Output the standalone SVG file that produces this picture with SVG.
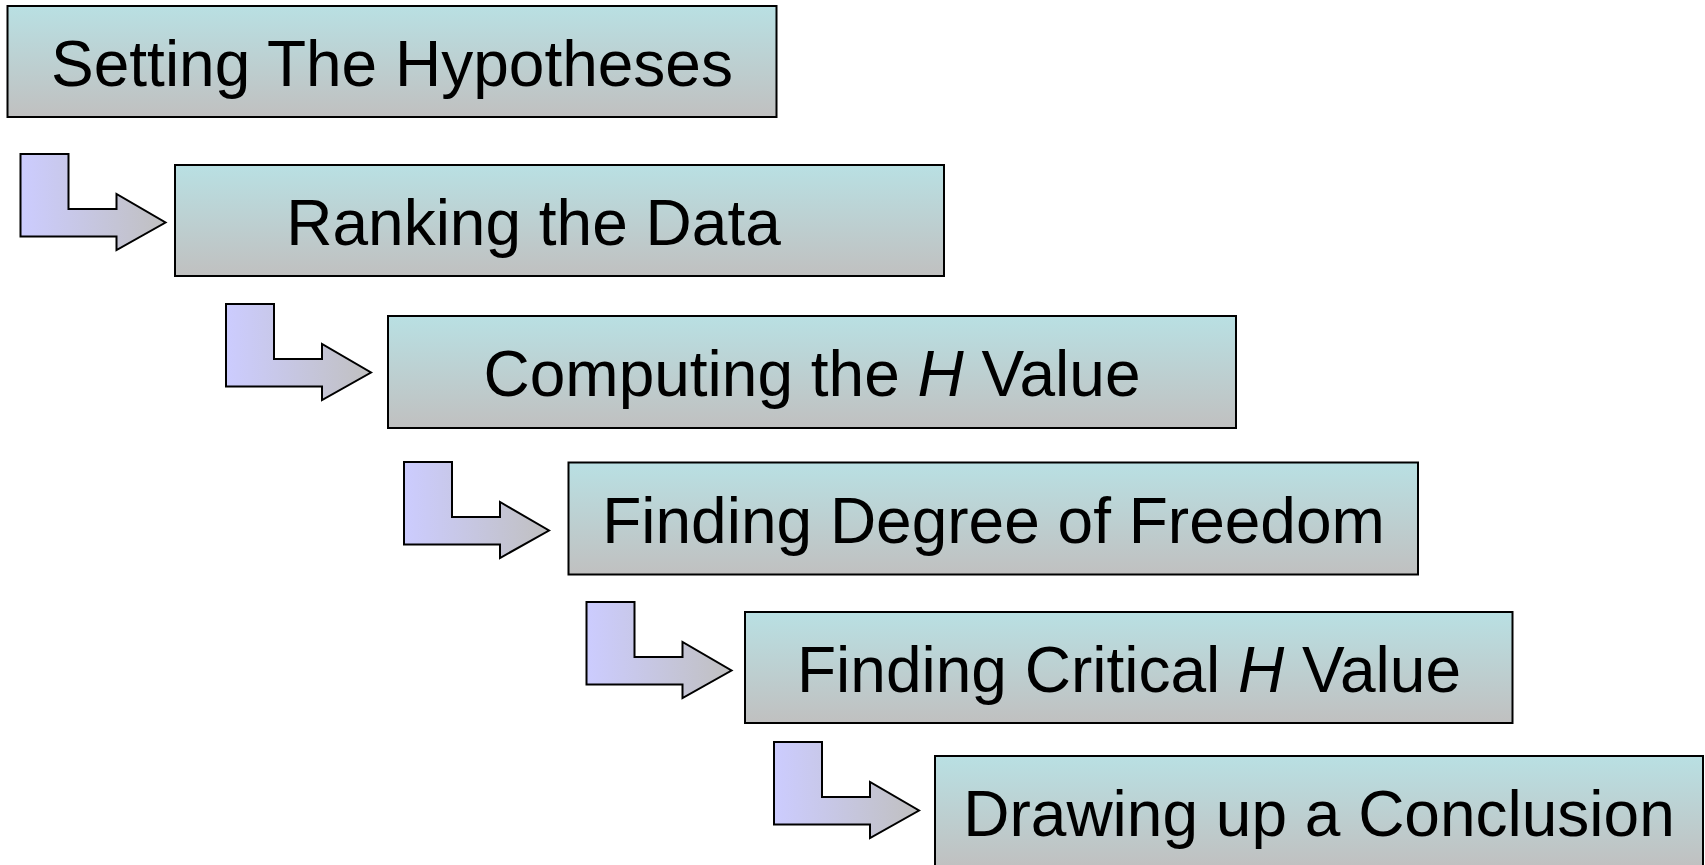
<svg xmlns="http://www.w3.org/2000/svg" width="1705" height="865" viewBox="0 0 1705 865">
<defs>
<linearGradient id="boxGrad" x1="0" y1="0" x2="0" y2="1">
<stop offset="0" stop-color="#b9e0e3"/>
<stop offset="1" stop-color="#c0c0c0"/>
</linearGradient>
<linearGradient id="arrGrad" x1="0" y1="0" x2="1" y2="0">
<stop offset="0" stop-color="#ccccff"/>
<stop offset="1" stop-color="#c0c0c0"/>
</linearGradient>
<path id="bent" d="M0,0 H48 V55 H96 V40 L145,68.5 L96,96 V82.5 H0 Z"/>
</defs>
<style>
.box { fill: url(#boxGrad); stroke: #000; stroke-width: 2; }
.shadow { fill: none; stroke: #9a9a9a; stroke-width: 1.5; }
.arrow { fill: url(#arrGrad); stroke: #000; stroke-width: 2; stroke-linejoin: miter; }
.label { font-family: "Liberation Sans", Arial, sans-serif; font-size: 64px; fill: #000; text-anchor: middle; }
.it { font-style: italic; }
</style>
<rect width="1705" height="865" fill="#ffffff"/>
<g id="connectors">
<use href="#bent" class="arrow" transform="translate(20.5,154)"/>
<use href="#bent" class="arrow" transform="translate(226,304)"/>
<use href="#bent" class="arrow" transform="translate(404,462)"/>
<use href="#bent" class="arrow" transform="translate(586.5,602)"/>
<use href="#bent" class="arrow" transform="translate(774,742)"/>
</g>
<g id="node1">
<rect class="box" x="7.5" y="6" width="769" height="111"/>
<text class="label" x="392" y="85.5">Setting The Hypotheses</text>
</g>
<g id="node2">
<rect class="box" x="175" y="165" width="769" height="111"/>
<text class="label" x="533.5" y="244.5">Ranking the Data</text>
</g>
<g id="node3">
<rect class="box" x="388" y="316" width="848" height="112"/>
<text class="label" x="812" y="396">Computing the <tspan class="it">H</tspan> Value</text>
</g>
<g id="node4">
<rect class="box" x="568.5" y="462.5" width="849.5" height="112"/>
<text class="label" x="993.5" y="542.5">Finding Degree of Freedom</text>
</g>
<g id="node5">
<rect class="box" x="745" y="612" width="767.5" height="111"/>
<text class="label" x="1129" y="691.5">Finding Critical <tspan class="it">H</tspan> Value</text>
</g>
<g id="node6">
<rect class="box" x="935" y="756" width="768" height="112"/>
<text class="label" x="1319" y="836">Drawing up a Conclusion</text>
</g>
</svg>
